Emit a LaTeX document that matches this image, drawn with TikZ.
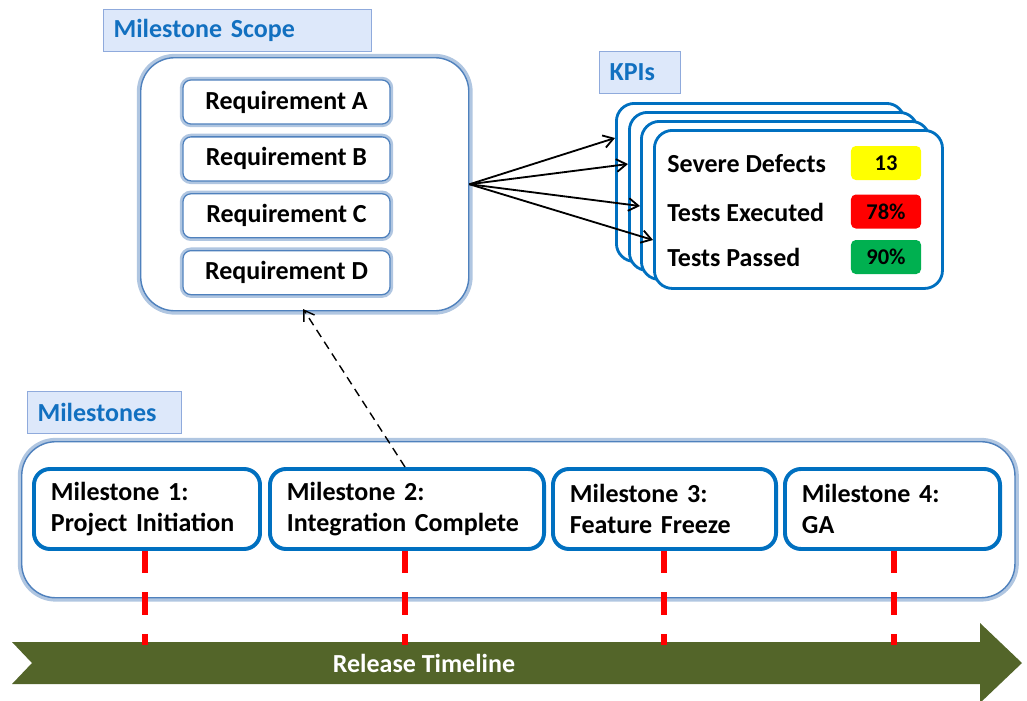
\documentclass[tikz,border=0pt]{standalone}
\usepackage{fontspec}
\setmainfont{Carlito}
\usetikzlibrary{positioning,calc,arrows.meta}

\definecolor{titleblue}{RGB}{18,112,192}
\definecolor{tagfill}{RGB}{221,232,250}
\definecolor{tagline}{RGB}{143,170,220}
\definecolor{glowblue}{RGB}{79,129,189}
\definecolor{kpiblue}{RGB}{0,112,192}
\definecolor{tickred}{RGB}{255,0,0}
\definecolor{timeolive}{RGB}{83,101,41}
\definecolor{kpiyellow}{RGB}{255,255,0}
\definecolor{kpired}{RGB}{255,0,0}
\definecolor{kpigreen}{RGB}{0,176,80}

\begin{document}
\begin{tikzpicture}[x=0.025cm, y=-0.025cm,
    font=\fontsize{18.5}{22}\selectfont\bfseries,
    tagbox/.style={draw=tagline, fill=tagfill, line width=0.8pt, text=titleblue, minimum height=1.05cm, inner xsep=0.25cm, inner ysep=0pt, anchor=north west},
    groupbox/.style={draw=glowblue, fill=white, line width=1pt, rounded corners=0.85cm, anchor=north west, preaction={draw=glowblue!45, line width=5.5pt}},
    reqbox/.style={draw=glowblue, fill=white, line width=0.9pt, rounded corners=0.2cm, minimum width=5.175cm, minimum height=1.1cm, preaction={draw=glowblue!45, line width=4.5pt}},
    kpicard/.style={draw=kpiblue, fill=white, line width=2pt, rounded corners=0.45cm, minimum width=7.2cm, minimum height=3.95cm, anchor=north west},
    kpilabel/.style={anchor=west, inner xsep=0pt},
    badge/.style={rounded corners=0.12cm, minimum width=1.75cm, minimum height=0.85cm, font=\fontsize{16}{18}\selectfont\bfseries},
    msbox/.style={draw=kpiblue, fill=white, line width=2.8pt, rounded corners=0.4cm, minimum height=2cm, inner xsep=0.425cm, align=left, anchor=north west},
    tickline/.style={draw=tickred, line width=4.5pt, dash pattern=on 16pt off 13.5pt},
    linkarrow/.style={-{Straight Barb[length=7pt,width=9pt]}, line width=1.3pt},
]
\useasboundingbox (0,0) rectangle (1027,700);

% milestone scope
\node[tagbox, text width=6.2cm] (scopetag) at (103,9) {Milestone Scope};
\node[groupbox, minimum width=8.2cm, minimum height=6.325cm] (scope) at (140,57) {};
\node[reqbox] (reqA) at (286.5,102) {Requirement A};
\node[reqbox, below=0.29cm of reqA] (reqB) {Requirement B};
\node[reqbox, below=0.29cm of reqB] (reqC) {Requirement C};
\node[reqbox, below=0.29cm of reqC] (reqD) {Requirement D};

% KPIs
\node[tagbox, text width=1.525cm] (kpitag) at (599,51) {KPIs};
\foreach \n/\x/\y in {1/615/102, 2/628/111, 3/640/120, 4/653/129}
    \node[kpicard] (card\n) at (\x,\y) {};
\node[kpilabel] (defects) at (667,164) {Severe Defects};
\node[kpilabel] (executed) at (667,212) {Tests Executed};
\node[kpilabel] (passed) at (667,257) {Tests Passed};
\node[badge, fill=kpiyellow] (defectsval) at (886,163) {13};
\node[badge, fill=kpired] (executedval) at (886,211.5) {78\%};
\node[badge, fill=kpigreen] (passedval) at (886,257) {90\%};

\foreach \n/\dy in {1/36, 2/53, 3/86, 4/111}
    \draw[linkarrow] (scope.east) -- ($(card\n.north west)+(0,\dy)$);

% milestones
\node[tagbox, text width=3.35cm] (mstag) at (27,391) {Milestones};
\node[groupbox, minimum width=24.825cm, minimum height=3.9cm] (mscont) at (21,441) {};
\node[msbox, text width=4.8cm] (m1) at (32,467) {Milestone 1:\\Project Initiation};
\node[msbox, text width=6.0cm] (m2) at (268,467) {Milestone 2:\\Integration Complete};
\node[msbox, text width=4.725cm] (m3) at (551,467) {Milestone 3:\\Feature Freeze};
\node[msbox, text width=4.525cm] (m4) at (783,467) {Milestone 4:\\GA};

% release timeline
\fill[timeolive] (12,642) -- (980,642) -- (980,623) -- (1022,663) -- (980,703)
    -- (980,684) -- (12,684) -- (32,663) -- cycle;
\node[text=white] (timeline) at (424,663) {Release Timeline};

\foreach \n/\x in {1/145, 2/405, 3/664, 4/894} {
    \coordinate (tick\n) at (\x,645);
    \draw[tickline] (tick\n |- m\n.south) -- (tick\n);
}

\draw[linkarrow, line width=1pt, dash pattern=on 6pt off 4pt, shorten >=-2pt] (tick2 |- m2.north) -- (scope.south);
\end{tikzpicture}
\end{document}
